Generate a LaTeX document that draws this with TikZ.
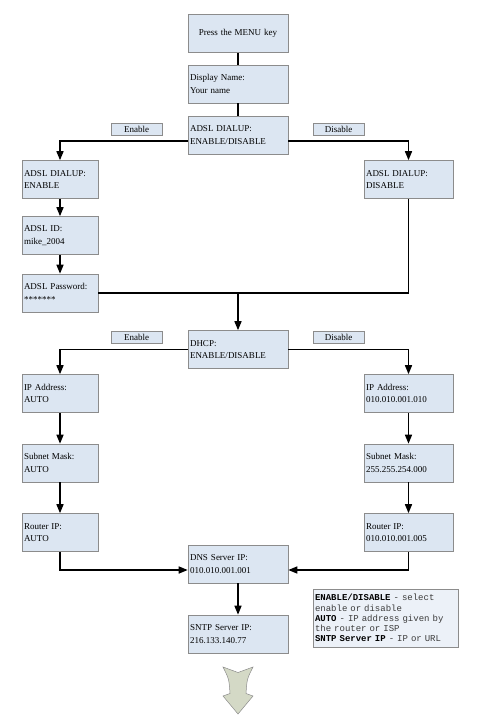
\documentclass[tikz,border=0pt]{standalone}
\usepackage{fontspec}
\setmainfont{Liberation Serif}
\newfontfamily\keyfont{Liberation Mono}
\usetikzlibrary{arrows.meta}
\definecolor{boxblue}{RGB}{220,230,242}
\definecolor{boxline}{RGB}{140,140,140}
\definecolor{notefill}{RGB}{236,241,248}
\definecolor{arrowfill}{RGB}{212,217,198}
\definecolor{notegray}{RGB}{60,60,60}

\begin{document}
\begin{tikzpicture}[x=1pt, y=-1pt,
	every node/.style={font=\fontsize{9}{12.5}\selectfont},
	box/.style={draw=boxline, fill=boxblue, line width=0.6pt, inner sep=2pt, minimum height=38pt, align=left},
	mid/.style={box, text width=96pt},
	lcol/.style={box, text width=72pt},
	rcol/.style={box, text width=85pt},
	choice/.style={draw=boxline, fill=boxblue, line width=0.6pt, inner sep=0pt, minimum width=51pt, minimum height=12pt},
	wire/.style={line width=1.5pt},
	flow/.style={wire, -{Triangle[length=9pt,width=7pt]}}]
	\useasboundingbox (0,0) rectangle (482,723);

	% Main column
	\node[mid, align=center] (menu) at (238,33.5) {Press the MENU key};
	\node[mid] (disp) at (238,84) {Display Name:\\Your name};
	\node[mid] (adsl) at (238,135) {ADSL DIALUP:\\ENABLE/DISABLE};
	\node[mid] (dhcp) at (238,349.5) {DHCP:\\ENABLE/DISABLE};
	\node[mid] (dns) at (238,564) {DNS Server IP:\\010.010.001.001};
	\node[mid] (sntp) at (238,634) {SNTP Server IP:\\216.133.140.77};

	% Enable branch
	\node[lcol] (adslen) at (60,179.5) {ADSL DIALUP:\\ENABLE};
	\node[lcol] (adslid) at (60,235.5) {ADSL ID:\\mike\_2004};
	\node[lcol] (pwd) at (60,293) {ADSL Password:\\********};
	\node[lcol] (ipl) at (60,393.5) {IP Address:\\AUTO};
	\node[lcol] (subl) at (60,463) {Subnet Mask:\\AUTO};
	\node[lcol] (routl) at (60,532.5) {Router IP:\\AUTO};

	% Disable branch
	\node[rcol] (adsldis) at (408.5,179.5) {ADSL DIALUP:\\DISABLE};
	\node[rcol] (ipr) at (408.5,393.5) {IP Address:\\010.010.001.010};
	\node[rcol] (subr) at (408.5,463) {Subnet Mask:\\255.255.254.000};
	\node[rcol] (routr) at (408.5,532.5) {Router IP:\\010.010.001.005};

	% Choice labels
	\node[choice] (en1) at (136.5,129) {Enable};
	\node[choice] (dis1) at (338.5,129) {Disable};
	\node[choice] (en2) at (136.5,337.5) {Enable};
	\node[choice] (dis2) at (338.5,337.5) {Disable};

	% Key
	\node[draw=boxline, fill=notefill, line width=0.6pt, inner sep=2pt, text width=141pt, minimum height=58pt, align=left,
		font=\keyfont\fontsize{9}{10.2}\selectfont, text=notegray] (key) at (385.5,618)
		{\textcolor{black}{\textbf{ENABLE/DISABLE}} - select\\enable or disable\\\textcolor{black}{\textbf{AUTO}} - IP address given by\\the router or ISP\\\textcolor{black}{\textbf{SNTP Server IP}} - IP or URL};

	% Draw the connectors
	\draw[wire] (menu) -- (disp);
	\draw[wire] (disp) -- (adsl);
	\draw[flow] ([yshift=-6pt]adsl.west) -| (adslen.north);
	\draw[flow] ([yshift=-6pt]adsl.east) -| (adsldis.north);
	\draw[flow] (adslen) -- (adslid);
	\draw[flow] (adslid) -- (pwd);
	\draw[wire] (pwd.east) -| (adsldis.south);
	\draw[flow] (dhcp.north |- pwd.east) -- (dhcp.north);
	\draw[flow] (dhcp.west) -| (ipl.north);
	\draw[flow] (dhcp.east) -| (ipr.north);
	\draw[flow] (ipl) -- (subl);
	\draw[flow] (subl) -- (routl);
	\draw[flow] (ipr) -- (subr);
	\draw[flow] (subr) -- (routr);
	\draw[flow] (routl.south) |- ([yshift=-6pt]dns.west);
	\draw[flow] (routr.south) |- ([yshift=-6pt]dns.east);
	\draw[flow] (dns) -- (sntp);

	% Continue arrow
	\draw[draw=boxline, fill=arrowfill, line width=0.5pt] (223,667) -- (238,672.5) -- (253,667)
		.. controls (247,679) .. (246,693.5) -- (253,696) -- (238,714) -- (223,696) -- (230,693.5)
		.. controls (229,679) .. (223,667) -- cycle;
\end{tikzpicture}
\end{document}
